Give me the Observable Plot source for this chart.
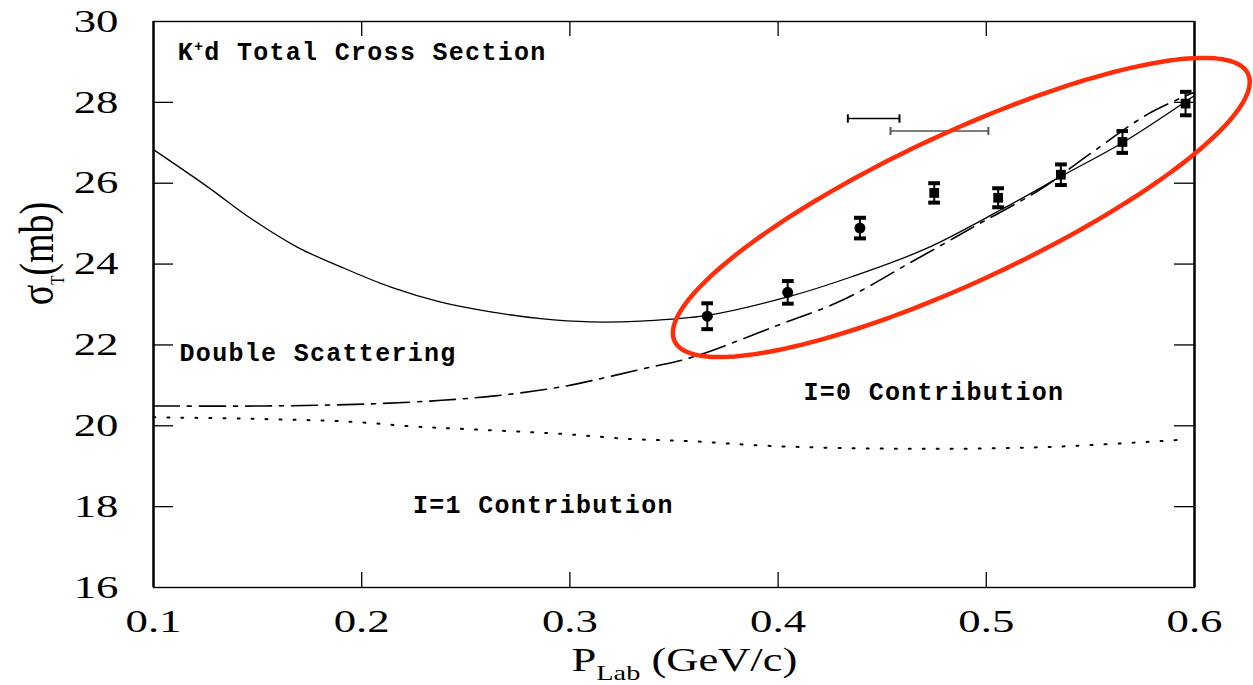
<!DOCTYPE html>
<html>
<head>
<meta charset="utf-8">
<script src="https://cdn.jsdelivr.net/npm/d3@7"></script>
<script src="https://cdn.jsdelivr.net/npm/@observablehq/plot@0.6"></script>
<style>
  html, body { margin: 0; padding: 0; background: #fff; }
</style>
</head>
<body>
<div id="chart"></div>
<script>
// ---- axis ticks ----
const xTicks = [0.1, 0.2, 0.3, 0.4, 0.5, 0.6];
const yTicks = [16, 18, 20, 22, 24, 26, 28, 30];

// ---- measured data points (K+d total cross section) ----
const pointP     = [0.366, 0.4046, 0.4393, 0.4750, 0.5057, 0.5358, 0.5654, 0.5957];
const pointSigma = [22.71, 23.30, 24.89, 25.76, 25.64, 26.21, 27.02, 27.97];
const pointErr   = [0.32, 0.28, 0.255, 0.24, 0.235, 0.255, 0.27, 0.29];
const pointShape = ["circle", "circle", "circle", "square", "square", "square", "square", "square"];

// ---- momentum resolution bars ----
const resP1    = [0.4335, 0.4540];
const resP2    = [0.4583, 0.5010];
const resSigma = [27.60, 27.29];

// ---- solid curve (total / double scattering) ----
const totalP     = [0.100, 0.126, 0.147, 0.169, 0.190, 0.214, 0.238, 0.262, 0.286, 0.310, 0.334, 0.366, 0.4055, 0.435, 0.471, 0.508, 0.537, 0.566, 0.600];
const totalSigma = [26.83, 25.91, 25.12, 24.42, 23.93, 23.43, 23.06, 22.82, 22.65, 22.57, 22.59, 22.73, 23.20, 23.68, 24.38, 25.37, 26.20, 27.02, 28.17];

// ---- dash-dot curve (I=0 contribution) ----
const iso0P     = [0.100, 0.154, 0.2035, 0.2385, 0.264, 0.2955, 0.336, 0.359, 0.398, 0.431, 0.464, 0.495, 0.526, 0.551, 0.578, 0.600];
const iso0Sigma = [20.49, 20.49, 20.54, 20.63, 20.74, 20.96, 21.42, 21.70, 22.45, 23.11, 24.05, 24.95, 25.85, 26.77, 27.72, 28.25];

// ---- dotted curve (I=1 contribution) ----
const iso1P     = [0.100, 0.150, 0.195, 0.2255, 0.2455, 0.296, 0.330, 0.358, 0.397, 0.465, 0.532, 0.595];
const iso1Sigma = [20.21, 20.17, 20.10, 19.98, 19.93, 19.80, 19.67, 19.62, 19.50, 19.43, 19.48, 19.66];

// ---- annotations ----
const noteText  = ["K+d Total Cross Section", "Double Scattering", "I=0 Contribution", "I=1 Contribution"];
const noteP     = [0.1116, 0.1125, 0.4122, 0.2246];
const noteSigma = [29.24, 21.79, 20.84, 18.05];

// ---- red highlight ellipse (data units: centre, half major axis, half minor axis) ----
const ellipseCenter = [0.488, 25.40];
const ellipseMajor  = [0.1377, 3.307];
const ellipseMinor  = [0.0152, -1.66];

// ---------------------------------------------------------------
const W = 1253, H = 685, mL = 153, mR = 59, mT = 21, mB = 98;
const innerW = W - mL - mR, innerH = H - mT - mB;

const points = pointP.map((p, i) => ({p, s: pointSigma[i], e: pointErr[i], shape: pointShape[i]}));
const resBars = resP1.map((p1, i) => ({p1, p2: resP2[i], s: resSigma[i], i}));
const total = totalP.map((p, i) => ({p, s: totalSigma[i]}));
const iso0 = iso0P.map((p, i) => ({p, s: iso0Sigma[i]}));
const iso1 = iso1P.map((p, i) => ({p, s: iso1Sigma[i]}));
const notes = noteText.map((t, i) => ({t, p: noteP[i], s: noteSigma[i]}));
const ellipse = d3.range(0, 181).map(k => {
  const a = k / 180 * 2 * Math.PI;
  return {
    p: ellipseCenter[0] + Math.cos(a) * ellipseMajor[0] + Math.sin(a) * ellipseMinor[0],
    s: ellipseCenter[1] + Math.cos(a) * ellipseMajor[1] + Math.sin(a) * ellipseMinor[1]
  };
});

const serif = "'Liberation Serif', 'Times New Roman', serif";
const mono = "'Liberation Mono', 'DejaVu Sans Mono', monospace";

const plot = Plot.plot({
  width: W, height: H,
  marginLeft: mL, marginRight: mR, marginTop: mT, marginBottom: mB,
  x: {domain: [0.1, 0.6]},
  y: {domain: [16, 30]},
  style: {fontFamily: serif, background: "#fff", color: "#000"},
  marks: [
    Plot.axisX(xTicks, {tickSize: 0, tickPadding: 22, fontSize: 32, tickFormat: d3.format(".1f"), label: null}),
    Plot.axisY(yTicks, {tickSize: 0, tickPadding: 35, fontSize: 32, label: null}),
    // inward ticks on all four sides
    Plot.ruleY(yTicks.slice(1, -1), {y: d => d, insetRight: innerW - 20, strokeWidth: 1.3}),
    Plot.ruleY(yTicks.slice(1, -1), {y: d => d, insetLeft: innerW - 20, strokeWidth: 1.3}),
    Plot.ruleX(xTicks.slice(1, -1), {x: d => d, insetTop: innerH - 15, strokeWidth: 1.3}),
    Plot.ruleX(xTicks.slice(1, -1), {x: d => d, insetBottom: innerH - 15, strokeWidth: 1.3}),
    Plot.frame({strokeWidth: 1.4}),
    Plot.ruleX([xTicks[0], xTicks[xTicks.length - 1]], {x: d => d, strokeWidth: 2.4}),
    // curves
    Plot.line(total, {x: "p", y: "s", curve: "catmull-rom", strokeWidth: 1.3}),
    Plot.line(iso0, {x: "p", y: "s", curve: "catmull-rom", strokeWidth: 1.6, strokeDasharray: "26,8,4,8"}),
    Plot.line(iso1, {x: "p", y: "s", curve: "catmull-rom", strokeWidth: 2, strokeDasharray: "2,12"}),
    // error bars and points
    Plot.link(points, {x1: "p", x2: "p", y1: d => d.s - d.e, y2: d => d.s + d.e, markerStart: "tick", markerEnd: "tick", strokeWidth: 2}),
    Plot.dot(points.filter(d => d.shape === "circle"), {x: "p", y: "s", symbol: "circle", r: 5.5, fill: "#000", stroke: "none"}),
    Plot.dot(points.filter(d => d.shape === "square"), {x: "p", y: "s", symbol: "square", r: 5.5, fill: "#000", stroke: "none"}),
    Plot.link(resBars, {x1: "p1", x2: "p2", y1: "s", y2: "s", stroke: d => d.i === 0 ? "#000" : "#555", markerStart: "tick", markerEnd: "tick", strokeWidth: 1.4}),
    // annotations
    Plot.text(notes, {x: "p", y: "s", text: "t", textAnchor: "start", fontFamily: mono, fontSize: 25, fontWeight: "bold"}),
    // axis titles
    Plot.text(["σT(mb)"], {frameAnchor: "left", y: () => 22.98, text: d => d, rotate: -90, dx: -116, fontSize: 38, fontFamily: serif}),
    Plot.text(["PLab (GeV/c)"], {frameAnchor: "bottom", lineAnchor: "middle", x: () => 0.355, text: d => d, dy: 73, fontSize: 33, fontFamily: serif}),
    // highlight ellipse
    Plot.line(ellipse, {x: "p", y: "s", stroke: "#ff2d0a", strokeWidth: 4.5, curve: "linear"})
  ]
});

document.getElementById("chart").appendChild(plot);

// ---- typographic post-processing ----
function stretch(el, sx, sy) {
  let t = el.getAttribute("transform");
  if (!t) {
    const x = +el.getAttribute("x") || 0, y = +el.getAttribute("y") || 0;
    el.removeAttribute("x"); el.removeAttribute("y");
    t = `translate(${x},${y})`;
  }
  el.setAttribute("transform", `${t} scale(${sx},${sy})`);
}
const svg = d3.select(plot);
svg.selectAll('g[aria-label="x-axis tick label"] text, g[aria-label="y-axis tick label"] text')
  .each(function () { stretch(this, 1.4, 1); });

svg.selectAll("text").each(function () {
  const txt = this.textContent;
  const sel = d3.select(this);
  if (noteText.includes(txt)) {
    sel.style("letter-spacing", "1.3px");
    if (txt.startsWith("K+d")) {
      sel.text("");
      sel.append("tspan").text("K");
      sel.append("tspan").attr("font-size", 15).attr("dy", -9).text("+");
      sel.append("tspan").attr("dy", 9).text(txt.slice(2));
    }
  } else if (txt === "σT(mb)") {
    sel.text("");
    sel.append("tspan").text("σ");
    sel.append("tspan").attr("font-size", 15).attr("dy", 9).text("T");
    sel.append("tspan").attr("dy", -9).text("(mb)");
    stretch(this, 1, 1.25);
  } else if (txt === "PLab (GeV/c)") {
    sel.text("");
    sel.append("tspan").text("P");
    sel.append("tspan").attr("font-size", 21).attr("dy", 9).text("Lab");
    sel.append("tspan").attr("dy", -9).text("\u00a0(GeV/c)");
    stretch(this, 1.35, 1);
  }
});
</script>
</body>
</html>
